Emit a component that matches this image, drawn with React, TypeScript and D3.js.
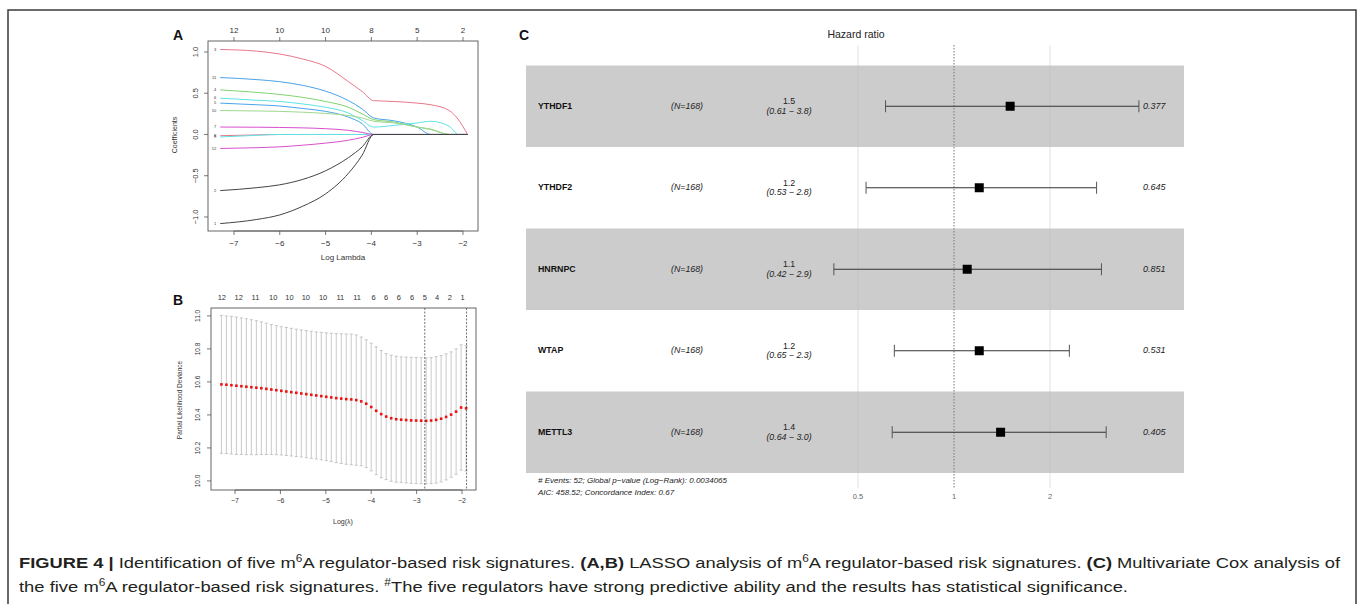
import React from "react";
import * as d3 from "d3";

// ---------- Panel A: LASSO coefficient paths ----------
const lassoKnots = [-7.3, -6.5, -6, -5.5, -5, -4.5, -4.2, -3.95, -3.5, -3, -2.7, -2.3, -2.1, -1.9];
const lassoLabels = ["3", "11", "4", "6", "5", "10", "7", "8", "9", "12", "2", "1"];
const lassoPaths = [
  [1.03, 1.01, 0.975, 0.915, 0.825, 0.64, 0.52, 0.41, 0.4, 0.38, 0.36, 0.29, 0.18, 0.0],
  [0.69, 0.665, 0.64, 0.595, 0.525, 0.41, 0.31, 0.2, 0.165, 0.09, 0.0, 0, 0, 0],
  [0.54, 0.51, 0.485, 0.45, 0.4, 0.33, 0.25, 0.18, 0.15, 0.09, 0.06, 0.0, 0, 0],
  [0.44, 0.415, 0.4, 0.37, 0.33, 0.26, 0.17, 0.09, 0.11, 0.14, 0.16, 0.1, 0.0, 0],
  [0.38, 0.36, 0.345, 0.315, 0.28, 0.21, 0.13, 0.0, 0, 0, 0, 0, 0, 0],
  [0.29, 0.285, 0.28, 0.27, 0.255, 0.23, 0.2, 0.16, 0.14, 0.09, 0.065, 0.0, 0, 0],
  [0.09, 0.088, 0.085, 0.08, 0.07, 0.05, 0.025, 0, 0, 0, 0, 0, 0, 0],
  [-0.015, -0.005, 0, 0, 0, 0, 0, 0, 0, 0, 0, 0, 0, 0],
  [-0.03, -0.01, 0, 0, 0, 0, 0, 0, 0, 0, 0, 0, 0, 0],
  [-0.17, -0.16, -0.15, -0.13, -0.105, -0.07, -0.035, 0, 0, 0, 0, 0, 0, 0],
  [-0.68, -0.645, -0.61, -0.545, -0.44, -0.28, -0.15, 0, 0, 0, 0, 0, 0, 0],
  [-1.08, -1.03, -0.975, -0.87, -0.72, -0.47, -0.25, 0, 0, 0, 0, 0, 0, 0],
];
const lassoColors = ["#e8788a", "#4aa3ea", "#7fd46f", "#5fe3e6", "#4aa3ea", "#9ed890", "#d94fcc", "#e8788a", "#5fe3e6", "#d94fcc", "#444444", "#444444"];
const lassoTopTicks = [-7, -6, -5, -4, -3, -2];
const lassoTopLabels = ["12", "10", "10", "8", "5", "2"];
const lassoYTicks = [-1, -0.5, 0, 0.5, 1];

// ---------- Panel B: cross-validation ----------
const cvLogLambda = [
  -7.3, -7.19, -7.08, -6.97, -6.86, -6.75, -6.64, -6.53, -6.42, -6.31,
  -6.2, -6.09, -5.98, -5.87, -5.76, -5.65, -5.54, -5.43, -5.32, -5.21,
  -5.1, -4.99, -4.88, -4.77, -4.66, -4.55, -4.44, -4.33, -4.22, -4.11,
  -4.0, -3.89, -3.78, -3.67, -3.56, -3.45, -3.34, -3.23, -3.12, -3.01,
  -2.9, -2.79, -2.68, -2.57, -2.46, -2.35, -2.24, -2.13, -2.02, -1.91,
];
const cvMean = [
  10.585, 10.583, 10.58, 10.577, 10.574, 10.571, 10.568, 10.565, 10.562, 10.558,
  10.554, 10.55, 10.546, 10.542, 10.538, 10.534, 10.53, 10.526, 10.522, 10.518,
  10.514, 10.51, 10.506, 10.502, 10.499, 10.496, 10.494, 10.49, 10.482, 10.468,
  10.448, 10.425, 10.405, 10.39, 10.38, 10.374, 10.371, 10.369, 10.367, 10.366,
  10.365, 10.364, 10.366, 10.37, 10.377, 10.388, 10.402, 10.42, 10.445, 10.44,
];
const cvUpper = [
  11.003, 11.0, 10.997, 10.993, 10.988, 10.983, 10.977, 10.971, 10.964, 10.956,
  10.948, 10.941, 10.935, 10.93, 10.925, 10.92, 10.915, 10.911, 10.907, 10.903,
  10.9, 10.897, 10.895, 10.893, 10.892, 10.891, 10.89, 10.885, 10.872, 10.855,
  10.835, 10.812, 10.79, 10.772, 10.762, 10.756, 10.752, 10.75, 10.749, 10.748,
  10.747, 10.746, 10.748, 10.753, 10.76, 10.77, 10.782, 10.8, 10.825, 10.82,
];
const cvTopPos = [-7.29, -6.92, -6.55, -6.16, -5.8, -5.44, -5.06, -4.68, -4.31, -3.95, -3.67, -3.39, -3.1, -2.82, -2.55, -2.27, -1.99];
const cvTopLabels = ["12", "12", "11", "10", "10", "10", "10", "11", "11", "6", "6", "6", "6", "5", "4", "2", "1"];
const cvVLines = [-2.82, -1.9];
const cvYTicks = [10.0, 10.2, 10.4, 10.6, 10.8, 11.0];
const cvXTicks = [-7, -6, -5, -4, -3, -2];

// ---------- Panel C: Cox forest plot ----------
const coxVars = ["YTHDF1", "YTHDF2", "HNRNPC", "WTAP", "METTL3"];
const coxN = [168, 168, 168, 168, 168];
const coxHR = [1.5, 1.2, 1.1, 1.2, 1.4];
const coxLo = [0.61, 0.53, 0.42, 0.65, 0.64];
const coxHi = [3.8, 2.8, 2.9, 2.3, 3.0];
const coxP = ["0.377", "0.645", "0.851", "0.531", "0.405"];
const coxTicks = [0.5, 1, 2];
const coxFooter = [
  "# Events: 52; Global p\u2212value (Log\u2212Rank): 0.0034065",
  "AIC: 458.52; Concordance Index: 0.67",
];

const FONT = "'Liberation Sans', Arial, Helvetica, sans-serif";
const fmt2 = d3.format(".2r");
const minus = (s: string) => s.replace("-", "\u2212");

export default function App() {
  // Panel A scales
  const xA = d3.scaleLinear().domain([-7.567, -1.672]).range([208, 478]);
  const yA = d3.scaleLinear().domain([-1.17, 1.133]).range([231, 41]);
  const lineA = d3
    .line<[number, number]>()
    .x((d) => xA(d[0]))
    .y((d) => yA(d[1]))
    .curve(d3.curveMonotoneX);

  // Panel B scales
  const xB = d3.scaleLinear().domain([-7.529, -1.692]).range([211, 476]);
  const yB = d3.scaleLinear().domain([9.945, 11.048]).range([490, 308]);

  // Panel C scales
  const xC = d3.scaleLog().domain([0.5, 2]).range([858, 1050]);
  const yC = d3.scaleBand<string>().domain(coxVars).range([65.5, 473]).padding(0);
  const bw = yC.bandwidth();

  const tickFmtA = d3.format(".1f");

  return (
    <svg
      width={1360}
      height={604}
      style={{ position: "absolute", left: 0, top: 0, background: "#fff" }}
      fontFamily={FONT}
    >
      <rect x={0} y={0} width={1360} height={604} fill="#fff" />
      {/* frame */}
      <path d="M8,604 V10 H1356 V604" fill="none" stroke="#3a3a3a" strokeWidth={1.5} />

      {/* ================= Panel A ================= */}
      <text x={173} y={40} fontSize={14} fontWeight="bold" fill="#111">A</text>
      {lassoPaths.map((vals, i) => (
        <path
          key={"lp" + i}
          d={lineA(lassoKnots.map((k, j) => [k, vals[j]] as [number, number])) || ""}
          fill="none"
          stroke={lassoColors[i]}
          strokeWidth={1}
        />
      ))}
      {lassoPaths.map((vals, i) => (
        <text
          key={"ll" + i}
          x={xA(lassoKnots[0]) - 4}
          y={yA(vals[0])}
          fontSize={4}
          textAnchor="end"
          dominantBaseline="middle"
          fill="#333"
        >
          {lassoLabels[i]}
        </text>
      ))}
      <rect x={208} y={41} width={270} height={190} fill="none" stroke="#555" strokeWidth={0.9} />
      {/* bottom axis */}
      {lassoTopTicks.map((t) => (
        <g key={"ab" + t}>
          <line x1={xA(t)} x2={xA(t)} y1={231} y2={235} stroke="#555" strokeWidth={0.8} />
          <text x={xA(t)} y={244} fontSize={8} textAnchor="middle" dominantBaseline="middle" fill="#333">
            {minus(String(t))}
          </text>
        </g>
      ))}
      <line x1={xA(-7)} x2={xA(-2)} y1={231} y2={231} stroke="#555" strokeWidth={0.8} />
      {/* top axis */}
      {lassoTopTicks.map((t, i) => (
        <g key={"at" + t}>
          <line x1={xA(t)} x2={xA(t)} y1={41} y2={37} stroke="#555" strokeWidth={0.8} />
          <text x={xA(t)} y={30.5} fontSize={8} textAnchor="middle" dominantBaseline="middle" fill="#333">
            {lassoTopLabels[i]}
          </text>
        </g>
      ))}
      {/* left axis */}
      {lassoYTicks.map((t) => (
        <g key={"ay" + t}>
          <line x1={208} x2={204} y1={yA(t)} y2={yA(t)} stroke="#555" strokeWidth={0.8} />
          <text
            transform={`translate(${196},${yA(t)}) rotate(-90)`}
            fontSize={7.5}
            textAnchor="middle"
            dominantBaseline="middle"
            fill="#333"
          >
            {minus(tickFmtA(t))}
          </text>
        </g>
      ))}
      <text x={343} y={258} fontSize={8} textAnchor="middle" dominantBaseline="middle" fill="#333">
        Log Lambda
      </text>
      <text
        transform={`translate(${175},${135}) rotate(-90)`}
        fontSize={7}
        textAnchor="middle"
        dominantBaseline="middle"
        fill="#333"
      >
        Coefficients
      </text>

      {/* ================= Panel B ================= */}
      <text x={173} y={305} fontSize={14} fontWeight="bold" fill="#111">B</text>
      {cvLogLambda.map((ll, i) => {
        const up = cvUpper[i];
        const lo = cvMean[i] - (cvUpper[i] - cvMean[i]);
        const x = xB(ll);
        return (
          <g key={"cv" + i} stroke="#bbbbbb" strokeWidth={0.8}>
            <line x1={x} x2={x} y1={yB(up)} y2={yB(lo)} />
            <line x1={x - 1.6} x2={x + 1.6} y1={yB(up)} y2={yB(up)} />
            <line x1={x - 1.6} x2={x + 1.6} y1={yB(lo)} y2={yB(lo)} />
          </g>
        );
      })}
      {cvLogLambda.map((ll, i) => (
        <rect key={"cd" + i} x={xB(ll) - 1.3} y={yB(cvMean[i]) - 1.3} width={2.6} height={2.6} fill="#ee1111" />
      ))}
      {cvVLines.map((v) => (
        <line
          key={"vl" + v}
          x1={xB(v)}
          x2={xB(v)}
          y1={308}
          y2={490}
          stroke="#333"
          strokeWidth={0.7}
          strokeDasharray="2,1.5"
        />
      ))}
      <rect x={211} y={308} width={265} height={182} fill="none" stroke="#555" strokeWidth={0.9} />
      {cvTopPos.map((p, i) => (
        <text key={"ct" + i} x={xB(p)} y={298} fontSize={7.5} textAnchor="middle" dominantBaseline="middle" fill="#333">
          {cvTopLabels[i]}
        </text>
      ))}
      {cvXTicks.map((t) => (
        <g key={"bx" + t}>
          <line x1={xB(t)} x2={xB(t)} y1={490} y2={494} stroke="#555" strokeWidth={0.8} />
          <text x={xB(t)} y={501.5} fontSize={7} textAnchor="middle" dominantBaseline="middle" fill="#333">
            {minus(String(t))}
          </text>
        </g>
      ))}
      <line x1={xB(-7)} x2={xB(-2)} y1={490} y2={490} stroke="#555" strokeWidth={0.8} />
      {cvYTicks.map((t) => (
        <g key={"by" + t}>
          <line x1={211} x2={207} y1={yB(t)} y2={yB(t)} stroke="#555" strokeWidth={0.8} />
          <text
            transform={`translate(${198},${yB(t)}) rotate(-90)`}
            fontSize={6.5}
            textAnchor="middle"
            dominantBaseline="middle"
            fill="#333"
          >
            {t.toFixed(1)}
          </text>
        </g>
      ))}
      <text x={343} y={522} fontSize={7} textAnchor="middle" dominantBaseline="middle" fill="#333">
        Log(λ)
      </text>
      <text
        transform={`translate(${180},${400}) rotate(-90)`}
        fontSize={6.5}
        textAnchor="middle"
        dominantBaseline="middle"
        fill="#333"
      >
        Partial Likelihood Deviance
      </text>

      {/* ================= Panel C ================= */}
      <text x={519} y={40} fontSize={14} fontWeight="bold" fill="#111">C</text>
      <text x={856} y={35} fontSize={10.5} textAnchor="middle" dominantBaseline="middle" fill="#222">
        Hazard ratio
      </text>
      {coxVars.map((v, i) =>
        i % 2 === 0 ? (
          <rect key={"band" + v} x={526} y={yC(v)} width={658} height={bw} fill="#cccccc" />
        ) : null
      )}
      {coxTicks.map((t) => (
        <line
          key={"g" + t}
          x1={xC(t)}
          x2={xC(t)}
          y1={45}
          y2={488}
          stroke={t === 1 ? "#777" : "#bdbdbd"}
          strokeWidth={t === 1 ? 1 : 0.6}
          strokeDasharray={t === 1 ? "1.5,1.5" : undefined}
          opacity={t === 1 ? 1 : 0.7}
        />
      ))}
      {coxVars.map((v, i) => {
        const cy = (yC(v) as number) + bw / 2;
        return (
          <g key={"row" + v}>
            <text x={538} y={cy} fontSize={8.8} fontWeight="bold" dominantBaseline="middle" fill="#111">
              {v}
            </text>
            <text x={687} y={cy} fontSize={8.8} fontStyle="italic" textAnchor="middle" dominantBaseline="middle" fill="#222">
              {`(N=${coxN[i]})`}
            </text>
            <text x={789} y={cy - 4.5} fontSize={8.8} textAnchor="middle" dominantBaseline="middle" fill="#222">
              {fmt2(coxHR[i])}
            </text>
            <text x={789} y={cy + 5} fontSize={8.8} fontStyle="italic" textAnchor="middle" dominantBaseline="middle" fill="#222">
              {`(${fmt2(coxLo[i])} \u2212 ${fmt2(coxHi[i])})`}
            </text>
            <line x1={xC(coxLo[i])} x2={xC(coxHi[i])} y1={cy} y2={cy} stroke="#333" strokeWidth={1} />
            <line x1={xC(coxLo[i])} x2={xC(coxLo[i])} y1={cy - 6} y2={cy + 6} stroke="#555" strokeWidth={1} />
            <line x1={xC(coxHi[i])} x2={xC(coxHi[i])} y1={cy - 6} y2={cy + 6} stroke="#555" strokeWidth={1} />
            <rect x={xC(coxHR[i]) - 4.5} y={cy - 4.5} width={9} height={9} fill="#000" />
            <text x={1143} y={cy} fontSize={9} fontStyle="italic" dominantBaseline="middle" fill="#222">
              {coxP[i]}
            </text>
          </g>
        );
      })}
      {coxFooter.map((s, i) => (
        <text key={"f" + i} x={538} y={481 + i * 12} fontSize={8} fontStyle="italic" dominantBaseline="middle" fill="#222">
          {s}
        </text>
      ))}
      {coxTicks.map((t) => (
        <text key={"ct" + t} x={xC(t)} y={497} fontSize={7.5} textAnchor="middle" dominantBaseline="middle" fill="#666">
          {String(t)}
        </text>
      ))}

      {/* ================= Caption ================= */}
      <text x={19} y={568} fontSize={15.5} fill="#231f20" textLength={1321} lengthAdjust="spacingAndGlyphs">
        <tspan fontWeight="bold">FIGURE 4 |</tspan>
        <tspan> Identification of five m</tspan>
        <tspan fontSize={10} dy={-6}>6</tspan>
        <tspan dy={6}>A regulator-based risk signatures. </tspan>
        <tspan fontWeight="bold">(A,B)</tspan>
        <tspan> LASSO analysis of m</tspan>
        <tspan fontSize={10} dy={-6}>6</tspan>
        <tspan dy={6}>A regulator-based risk signatures. </tspan>
        <tspan fontWeight="bold">(C)</tspan>
        <tspan> Multivariate Cox analysis of</tspan>
      </text>
      <text x={19} y={592} fontSize={15.5} fill="#231f20" textLength={1109} lengthAdjust="spacingAndGlyphs">
        <tspan>the five m</tspan>
        <tspan fontSize={10} dy={-6}>6</tspan>
        <tspan dy={6}>A regulator-based risk signatures. </tspan>
        <tspan fontSize={10} dy={-6}>#</tspan>
        <tspan dy={6}>The five regulators have strong predictive ability and the results has statistical significance.</tspan>
      </text>
    </svg>
  );
}
